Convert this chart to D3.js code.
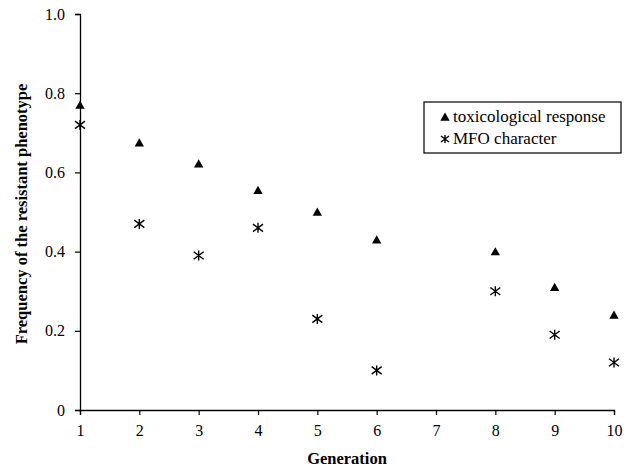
<!DOCTYPE html>
<html>
<head>
<meta charset="utf-8">
<script src="https://cdn.jsdelivr.net/npm/d3@7"></script>
<style>
  body { margin: 0; background: #fff; }
  text { font-family: "Liberation Serif", "Times New Roman", serif; }
</style>
</head>
<body>
<div id="chart"></div>
<script>
// generations on the x axis (no measurement at 7)
const generations = [1, 2, 3, 4, 5, 6, 8, 9, 10];
const toxResponse = [0.77, 0.675, 0.622, 0.555, 0.50, 0.43, 0.40, 0.31, 0.24];
const mfoCharacter = [0.72, 0.47, 0.39, 0.46, 0.23, 0.10, 0.30, 0.19, 0.12];
const xTicks = [1, 2, 3, 4, 5, 6, 7, 8, 9, 10];
const yTicks = [0, 0.2, 0.4, 0.6, 0.8, 1.0];

var W = 626, H = 468;
var margin = {top: 14, right: 12, bottom: 58, left: 80};

var svg = d3.select("#chart").append("svg")
  .attr("width", W).attr("height", H);

var x = d3.scaleLinear().domain([1, 10]).range([margin.left, W - margin.right]);
var y = d3.scaleLinear().domain([0, 1]).range([H - margin.bottom, margin.top]);

// axes
var xAxis = svg.append("g")
  .attr("transform", "translate(0," + y(0) + ")")
  .call(d3.axisBottom(x).tickValues(xTicks).tickSize(5).tickPadding(10).tickFormat(d3.format("d")));
var yAxis = svg.append("g")
  .attr("transform", "translate(" + x(1) + ",0)")
  .call(d3.axisLeft(y).tickValues(yTicks).tickSize(5).tickPadding(10)
    .tickFormat(function(d) { return d === 0 ? "0" : d3.format(".1f")(d); }));

[xAxis, yAxis].forEach(function(a) {
  a.select(".domain").attr("stroke", "#000").attr("stroke-width", 1.3);
  a.selectAll(".tick line").attr("stroke", "#000").attr("stroke-width", 1.2);
  a.selectAll("text").attr("fill", "#000").style("font-size", "16px")
    .style("font-family", "'Liberation Serif', serif");
});

// axis titles
svg.append("text")
  .attr("x", (x(1) + x(10)) / 2).attr("y", 464)
  .attr("text-anchor", "middle")
  .style("font-size", "16.5px").style("font-weight", "bold")
  .text("Generation");
svg.append("text")
  .attr("transform", "translate(27," + 214 + ") rotate(-90)")
  .attr("text-anchor", "middle")
  .style("font-size", "16.5px").style("font-weight", "bold")
  .text("Frequency of the resistant phenotype");

// markers
var tri = d3.symbol().type(d3.symbolTriangle).size(38);
function star(g, r) {
  g.append("path")
    .attr("d", "M" + (-r) + "," + (-r * 0.75) + "L" + r + "," + (r * 0.75) +
               "M" + (-r) + "," + (r * 0.75) + "L" + r + "," + (-r * 0.75) +
               "M0," + (-r) + "L0," + r)
    .attr("stroke", "#000").attr("stroke-width", 1.4).attr("fill", "none");
}

svg.selectAll(".tox")
  .data(generations.map(function(g, i) { return {g: g, v: toxResponse[i]}; }))
  .enter().append("path")
  .attr("class", "tox")
  .attr("d", tri)
  .attr("transform", function(d) { return "translate(" + x(d.g) + "," + (y(d.v) + 1) + ")"; })
  .attr("fill", "#000");

svg.selectAll(".mfo")
  .data(generations.map(function(g, i) { return {g: g, v: mfoCharacter[i]}; }))
  .enter().append("g")
  .attr("class", "mfo")
  .attr("transform", function(d) { return "translate(" + x(d.g) + "," + y(d.v) + ")"; })
  .each(function() { star(d3.select(this), 5); });

// legend
var leg = svg.append("g").attr("transform", "translate(424,102)");
leg.append("rect").attr("width", 197).attr("height", 51)
  .attr("fill", "#fff").attr("stroke", "#000").attr("stroke-width", 1.2);
leg.append("path").attr("d", tri).attr("transform", "translate(21,16)").attr("fill", "#000");
leg.append("text").attr("x", 29).attr("y", 20).style("font-size", "17px").text("toxicological response");
var s2 = leg.append("g").attr("transform", "translate(21,37)");
star(s2, 4);
leg.append("text").attr("x", 29).attr("y", 42).style("font-size", "17px").text("MFO character");
</script>
</body>
</html>
